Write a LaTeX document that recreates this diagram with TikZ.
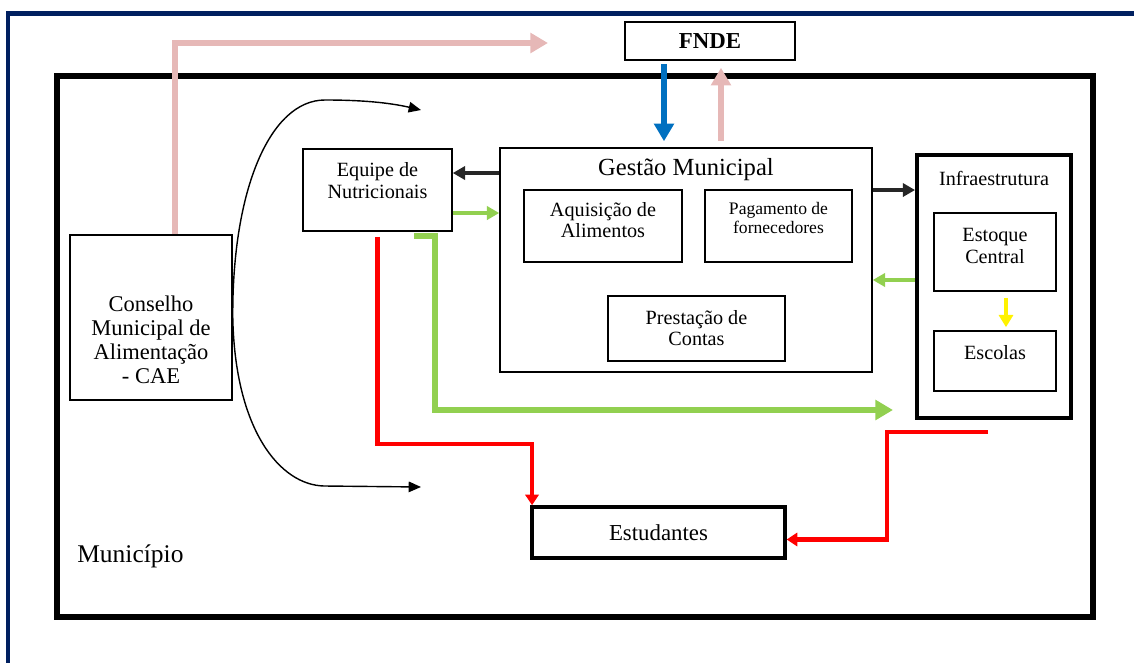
\documentclass[tikz,border=0pt]{standalone}
\usepackage{fontspec}
\setmainfont{Liberation Serif}
\usepackage{tikz}
\usetikzlibrary{arrows.meta}
\definecolor{navy}{RGB}{0,32,96}
\definecolor{rosa}{RGB}{230,184,183}
\definecolor{azul}{RGB}{0,112,192}
\definecolor{verde}{RGB}{146,208,80}
\definecolor{escuro}{RGB}{38,38,38}

\begin{document}
\begin{tikzpicture}[x=0.02cm, y=-0.02cm,
	caixa/.style={draw, line width=0.9pt, inner sep=0pt, align=center},
	caixagrossa/.style={caixa, line width=2.2pt},
	txt/.style={align=center, inner sep=0pt},
	seta/.style={line width=2.3pt, -{Triangle[length=7pt, width=7.5pt]}},
	setagrossa/.style={line width=3.4pt, -{Triangle[length=10pt, width=11pt]}},
	setavermelha/.style={red, line width=2.3pt, -{Triangle[length=6pt, width=7.5pt]}},
	curva/.style={line width=0.8pt, -{Triangle[length=7pt, width=6pt]}},]

    \useasboundingbox (0,0) rectangle (1134,663);
    % moldura
    \draw[navy, line width=2.8pt] (8,663) -- (8,13.5) -- (1134,13.5);
    \node[caixa, line width=3pt, minimum width=20.72cm, minimum height=10.82cm] (mun) at (575,346.5) {};
    \node[txt, anchor=west, font=\rmfamily\fontsize{14.5}{16}\selectfont] (muntxt) at (77,556) {Município};

    \node[caixa, minimum width=3.4cm, minimum height=0.76cm, font=\rmfamily\bfseries\fontsize{13}{14}\selectfont] (fnde) at (710,41) {FNDE};
    \node[caixa, minimum width=7.44cm, minimum height=4.48cm,
	label={[txt, yshift=1.8cm, font=\rmfamily\fontsize{14}{15}\selectfont]center:Gestão Municipal}] (gest) at (686,260) {};
    \node[caixa, minimum width=3.16cm, minimum height=1.44cm,
	label={[txt, yshift=0.11cm, font=\rmfamily\fontsize{11.5}{12}\selectfont]center:Aquisição de\\Alimentos}] (aquis) at (603,226) {};
    \node[caixa, minimum width=2.94cm, minimum height=1.44cm,
	label={[txt, yshift=0.16cm, font=\rmfamily\fontsize{10}{10.3}\selectfont]center:Pagamento de\\fornecedores}] (pag) at (778.5,226) {};
    \node[caixa, minimum width=3.54cm, minimum height=1.3cm, font=\rmfamily\fontsize{11.5}{12}\selectfont] (prest) at (696.5,328.5) {Prestação de\\Contas};

    \node[caixagrossa, minimum width=3.08cm, minimum height=5.26cm,
	label={[txt, yshift=2.16cm, font=\rmfamily\fontsize{11.5}{12}\selectfont]center:Infraestrutura}] (infra) at (994,286.5) {};
    \node[caixa, minimum width=2.44cm, minimum height=1.56cm,
	label={[txt, yshift=0.13cm, font=\rmfamily\fontsize{11.5}{12.5}\selectfont]center:Estoque\\Central}] (estoque) at (995,252) {};
    \node[caixa, minimum width=2.44cm, minimum height=1.2cm,
	label={[txt, yshift=0.17cm, font=\rmfamily\fontsize{11.5}{12.5}\selectfont]center:Escolas}] (escolas) at (995,361) {};

    \node[caixa, minimum width=2.98cm, minimum height=1.64cm,
	label={[txt, yshift=0.19cm, font=\rmfamily\fontsize{11.5}{12.5}\selectfont]center:Equipe de\\Nutricionais}] (equipe) at (377.5,190) {};
    \node[caixa, minimum width=3.24cm, minimum height=3.3cm,
	label={[txt, yshift=-0.45cm, font=\rmfamily\fontsize{12.8}{13.6}\selectfont]center:Conselho\\Municipal de\\Alimentação\\- CAE}] (cae) at (151,317.5) {};
    \node[caixagrossa, line width=2pt, minimum width=5.06cm, minimum height=1.02cm, font=\rmfamily\fontsize{13}{14}\selectfont] (estud) at (658.5,532.5) {Estudantes};

    % ligacoes
    \coordinate (ptop) at (548,43);
    \coordinate (ctop) at (421,110);
    \coordinate (cbot) at (421,487);
    \coordinate (gstart) at (414,236);
    \coordinate (gend) at (893,410);
    \coordinate (rstart) at (988,432);

    \draw[rosa, setagrossa] ([xshift=0.48cm]cae.north) |- (ptop);
    \draw[azul, setagrossa] ([xshift=-0.44cm,yshift=-0.06cm]gest.north |- fnde.south) -- ([xshift=-0.44cm,yshift=0.12cm]gest.north);
    \draw[rosa, setagrossa] ([xshift=0.7cm,yshift=0.12cm]gest.north) -- ([xshift=0.7cm,yshift=-0.14cm]gest.north |- fnde.south);

    \draw[escuro, seta] ([yshift=1.74cm]gest.west) -- ([yshift=1.74cm]gest.west -| equipe.east);
    \draw[verde, seta] ([yshift=0.94cm]gest.west -| equipe.east) -- ([yshift=0.94cm]gest.west);
    \draw[escuro, seta] ([yshift=1.4cm]gest.east) -- ([yshift=1.4cm]gest.east -| infra.west);
    \draw[verde, seta] ([yshift=-0.4cm]gest.east -| infra.west) -- ([yshift=-0.4cm]gest.east);
    \draw[yellow, line width=2.2pt, -{Triangle[length=7pt, width=8pt]}] ([xshift=0.22cm,yshift=-0.12cm]estoque.south) -- ([xshift=0.22cm,yshift=0.06cm]escolas.north);

    \draw[verde, setagrossa] (gstart) -- (435,236) |- (gend);
    \draw[setavermelha] ([yshift=-0.1cm]equipe.south) -- ++(0,207) -| ([xshift=1pt]estud.north west);
    \draw[setavermelha] (rstart) -- (887,432) |- ([yshift=-0.14cm]estud.east);

    \draw[curva] (cae.east) .. controls (232,190) and (270,100) .. (325,100) .. controls (370,100) and (395,104) .. (ctop);
    \draw[curva] (cae.east) .. controls (235,430) and (280,485) .. (324,486) -- (cbot);
    \end{tikzpicture}
\end{document}
